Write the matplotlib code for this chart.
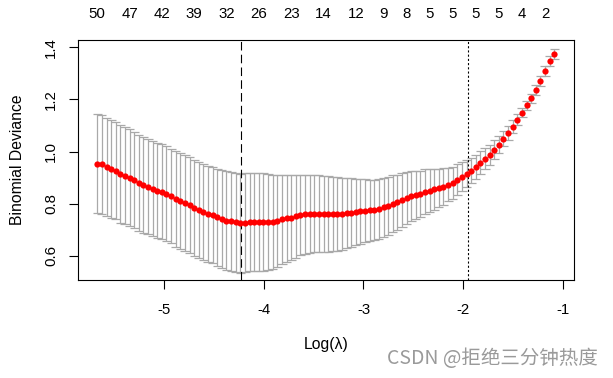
import matplotlib
matplotlib.use("Agg")
import matplotlib.pyplot as plt
import numpy as np

# ---- data ----
log_lambda = [
    -5.670, -5.624, -5.577, -5.531, -5.485, -5.439, -5.392, -5.346, -5.300, -5.253,
    -5.207, -5.161, -5.114, -5.068, -5.022, -4.976, -4.929, -4.883, -4.837, -4.790,
    -4.744, -4.698, -4.651, -4.605, -4.559, -4.513, -4.466, -4.420, -4.374, -4.327,
    -4.281, -4.235, -4.188, -4.142, -4.096, -4.050, -4.003, -3.957, -3.911, -3.864,
    -3.818, -3.772, -3.725, -3.679, -3.633, -3.587, -3.540, -3.494, -3.448, -3.401,
    -3.355, -3.309, -3.262, -3.216, -3.170, -3.124, -3.077, -3.031, -2.985, -2.938,
    -2.892, -2.846, -2.799, -2.753, -2.707, -2.661, -2.614, -2.568, -2.522, -2.475,
    -2.429, -2.383, -2.336, -2.290, -2.244, -2.198, -2.151, -2.105, -2.059, -2.012,
    -1.966, -1.920, -1.873, -1.827, -1.781, -1.735, -1.688, -1.642, -1.596, -1.549,
    -1.503, -1.457, -1.410, -1.364, -1.318, -1.272, -1.225, -1.179, -1.133, -1.086,
]

cv_mean = [
    0.954, 0.951, 0.942, 0.934, 0.927, 0.915, 0.908, 0.900, 0.892, 0.881,
    0.873, 0.865, 0.857, 0.850, 0.847, 0.838, 0.830, 0.819, 0.811, 0.804,
    0.796, 0.784, 0.776, 0.769, 0.762, 0.757, 0.748, 0.742, 0.736, 0.733,
    0.729, 0.725, 0.727, 0.730, 0.730, 0.730, 0.730, 0.730, 0.730, 0.735,
    0.740, 0.744, 0.747, 0.752, 0.757, 0.760, 0.761, 0.762, 0.762, 0.762,
    0.761, 0.761, 0.761, 0.762, 0.765, 0.766, 0.769, 0.771, 0.773, 0.775,
    0.777, 0.780, 0.787, 0.792, 0.800, 0.806, 0.814, 0.821, 0.829, 0.834,
    0.838, 0.846, 0.850, 0.855, 0.861, 0.866, 0.874, 0.881, 0.892, 0.904,
    0.915, 0.927, 0.942, 0.958, 0.973, 0.988, 1.008, 1.027, 1.050, 1.073,
    1.096, 1.123, 1.150, 1.177, 1.204, 1.235, 1.270, 1.308, 1.347, 1.374,
]

cv_sd = [
    0.189, 0.189, 0.188, 0.188, 0.187, 0.187, 0.186, 0.186, 0.185, 0.184,
    0.183, 0.182, 0.182, 0.182, 0.182, 0.182, 0.182, 0.183, 0.183, 0.183,
    0.183, 0.184, 0.184, 0.184, 0.184, 0.185, 0.186, 0.187, 0.188, 0.189,
    0.190, 0.190, 0.190, 0.189, 0.189, 0.188, 0.187, 0.184, 0.180, 0.176,
    0.172, 0.168, 0.164, 0.160, 0.155, 0.151, 0.149, 0.148, 0.147, 0.146,
    0.145, 0.143, 0.140, 0.138, 0.135, 0.132, 0.128, 0.124, 0.121, 0.118,
    0.115, 0.114, 0.113, 0.111, 0.109, 0.106, 0.103, 0.100, 0.096, 0.093,
    0.089, 0.086, 0.082, 0.078, 0.074, 0.070, 0.065, 0.062, 0.059, 0.055,
    0.052, 0.049, 0.046, 0.044, 0.041, 0.039, 0.036, 0.033, 0.030, 0.027,
    0.024, 0.021, 0.018, 0.018, 0.018, 0.019, 0.019, 0.019, 0.020, 0.020,
]

top_idx = [0, 7, 14, 21, 28, 35, 42, 49, 56, 62, 67, 72, 77, 82, 87, 92, 97]
top_labels = ["50", "47", "42", "39", "32", "26", "23", "14", "12",
              "9", "8", "5", "5", "5", "5", "4", "2"]

log_lambda_min = -4.224
log_lambda_1se = -1.947

x_ticks = [-5, -4, -3, -2, -1]
y_ticks = [0.6, 0.8, 1.0, 1.2, 1.4]

# ---- plotting ----
plt.rcParams['font.family'] = ['Liberation Sans', 'DejaVu Sans']
FS = 10.8
LFS = 11.3

x = np.array(log_lambda)
m = np.array(cv_mean)
s = np.array(cv_sd)
up = m + s
lo = m - s

fig = plt.figure(figsize=(6.13, 3.78), dpi=100)
ax = fig.add_axes([78/613, 1 - 280/378, (574 - 78)/613, (280 - 40)/378])

capw = 0.046
grey = '#A9A9A9'
ax.vlines(x, lo, up, color=grey, lw=0.9, zorder=1)
ax.hlines(up, x - capw, x + capw, color=grey, lw=0.9, zorder=1)
ax.hlines(lo, x - capw, x + capw, color=grey, lw=0.9, zorder=1)
ax.plot(x, m, 'o', color='red', ms=4.5, mec='red', mew=0, zorder=3)

ax.axvline(log_lambda_min, color='black', lw=0.8, ls=(0, (7.7, 3.8)), zorder=2)
ax.axvline(log_lambda_1se, color='black', lw=0.8, ls=(0, (1.9, 1.9)), zorder=2)

ax.set_xlim(-5.863, -0.889)
ax.set_ylim(0.508, 1.428)
ax.set_xticks(x_ticks)
ax.set_xticklabels([str(t) for t in x_ticks])
ax.set_yticks(y_ticks)
ax.set_yticklabels([f"{t:.1f}" for t in y_ticks], rotation=90, va='center')

for sp in ax.spines.values():
    sp.set_linewidth(0.8)
ax.tick_params(axis='both', direction='out', length=6.2, width=0.8, labelsize=FS)
ax.tick_params(axis='x', pad=10)
ax.tick_params(axis='y', pad=8)

ax.set_xlabel('Log(λ)', fontsize=LFS, labelpad=15)
ax.set_ylabel('Binomial Deviance', fontsize=LFS, labelpad=14)

sec = ax.secondary_xaxis('top')
sec.set_xticks([log_lambda[i] for i in top_idx])
sec.set_xticklabels(top_labels)
sec.tick_params(axis='x', length=0, pad=14, labelsize=FS)
sec.spines['top'].set_visible(False)

fig.text(598/613, 1 - 358/378, 'CSDN @拒绝三分钟热度', ha='right', va='center',
         fontsize=14, color='#9a9a9a',
         family=['Noto Sans CJK SC', 'DejaVu Sans'])

fig.savefig('out.png', dpi=100)
